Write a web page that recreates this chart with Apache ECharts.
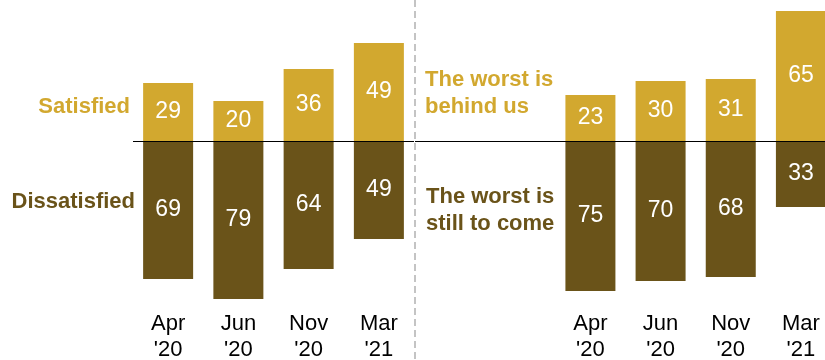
<!DOCTYPE html>
<html>
<head>
<meta charset="utf-8">
<script src="https://cdn.jsdelivr.net/npm/echarts@6/dist/echarts.min.js"></script>
<style>html,body{margin:0;padding:0;background:#fff;}#c{width:825px;height:360px;}</style>
</head>
<body>
<div id="c"></div>
<script>
var categories = ["Apr\n'20", "Jun\n'20", "Nov\n'20", "Mar\n'21"];
var satisfied = [29, 20, 36, 49];
var dissatisfied = [69, 79, 64, 49];
var worstBehind = [23, 30, 31, 65];
var worstToCome = [75, 70, 68, 33];

var GOLD = '#D2A82F';
var DARK = '#6A5319';
var FONT = "'Liberation Sans', Arial, sans-serif";

var chart = echarts.init(document.getElementById('c'), null, {renderer: 'canvas'});

var rightCats = ['', ''].concat(categories);
function pad(arr) { return [null, null].concat(arr); }
function neg(arr) { return arr.map(function (v) { return v == null ? null : -v; }); }

var valLabel = {
  show: true, position: 'inside', color: '#fff', fontSize: 23, fontFamily: FONT,
  formatter: function (p) { return Math.abs(p.value); }
};
var baseLine = {
  silent: true, symbol: ['none', 'none'], label: {show: false},
  lineStyle: {color: '#000', width: 1, type: 'solid'},
  data: [{yAxis: 0}]
};

function xAx(idx, data) {
  return {
    type: 'category', gridIndex: idx, data: data, position: 'bottom',
    axisLine: {show: false}, axisTick: {show: false},
    axisLabel: {color: '#000', fontSize: 22, fontFamily: FONT, lineHeight: 26, margin: 6, interval: 0}
  };
}
function yAx(idx) {
  return {
    type: 'value', gridIndex: idx, min: -82, max: 70,
    axisLine: {show: false}, axisTick: {show: false}, axisLabel: {show: false}, splitLine: {show: false}
  };
}

function txt(x, y, text, color, align) {
  return {
    type: 'text', x: x, y: y,
    style: {text: text, fill: color, font: 'bold 22px ' + FONT, textAlign: align, textVerticalAlign: 'middle', lineHeight: 27}
  };
}

chart.setOption({
  animation: false,
  grid: [
    {left: 133, width: 281, top: 1, height: 304, outerBoundsMode: 'none', containLabel: false},
    {left: 415, width: 421, top: 1, height: 304, outerBoundsMode: 'none', containLabel: false}
  ],
  xAxis: [xAx(0, categories), xAx(1, rightCats)],
  yAxis: [yAx(0), yAx(1)],
  series: [
    {type: 'bar', xAxisIndex: 0, yAxisIndex: 0, stack: 'a', barWidth: 50, data: satisfied,
     itemStyle: {color: GOLD}, label: valLabel, markLine: baseLine},
    {type: 'bar', xAxisIndex: 0, yAxisIndex: 0, stack: 'a', barWidth: 50, data: neg(dissatisfied),
     itemStyle: {color: DARK}, label: valLabel},
    {type: 'bar', xAxisIndex: 1, yAxisIndex: 1, stack: 'b', barWidth: 50, data: pad(worstBehind),
     itemStyle: {color: GOLD}, label: valLabel, markLine: baseLine},
    {type: 'bar', xAxisIndex: 1, yAxisIndex: 1, stack: 'b', barWidth: 50, data: neg(pad(worstToCome)),
     itemStyle: {color: DARK}, label: valLabel}
  ],
  graphic: [
    {type: 'line', shape: {x1: 415, y1: 0, x2: 415, y2: 360},
     style: {stroke: '#C4C4C4', lineWidth: 2, lineDash: [7, 4]}},
    txt(130, 107, 'Satisfied', GOLD, 'right'),
    txt(135, 202, 'Dissatisfied', DARK, 'right'),
    txt(425, 93.5, 'The worst is\nbehind us', GOLD, 'left'),
    txt(426, 210.5, 'The worst is\nstill to come', DARK, 'left')
  ]
});
</script>
</body>
</html>
